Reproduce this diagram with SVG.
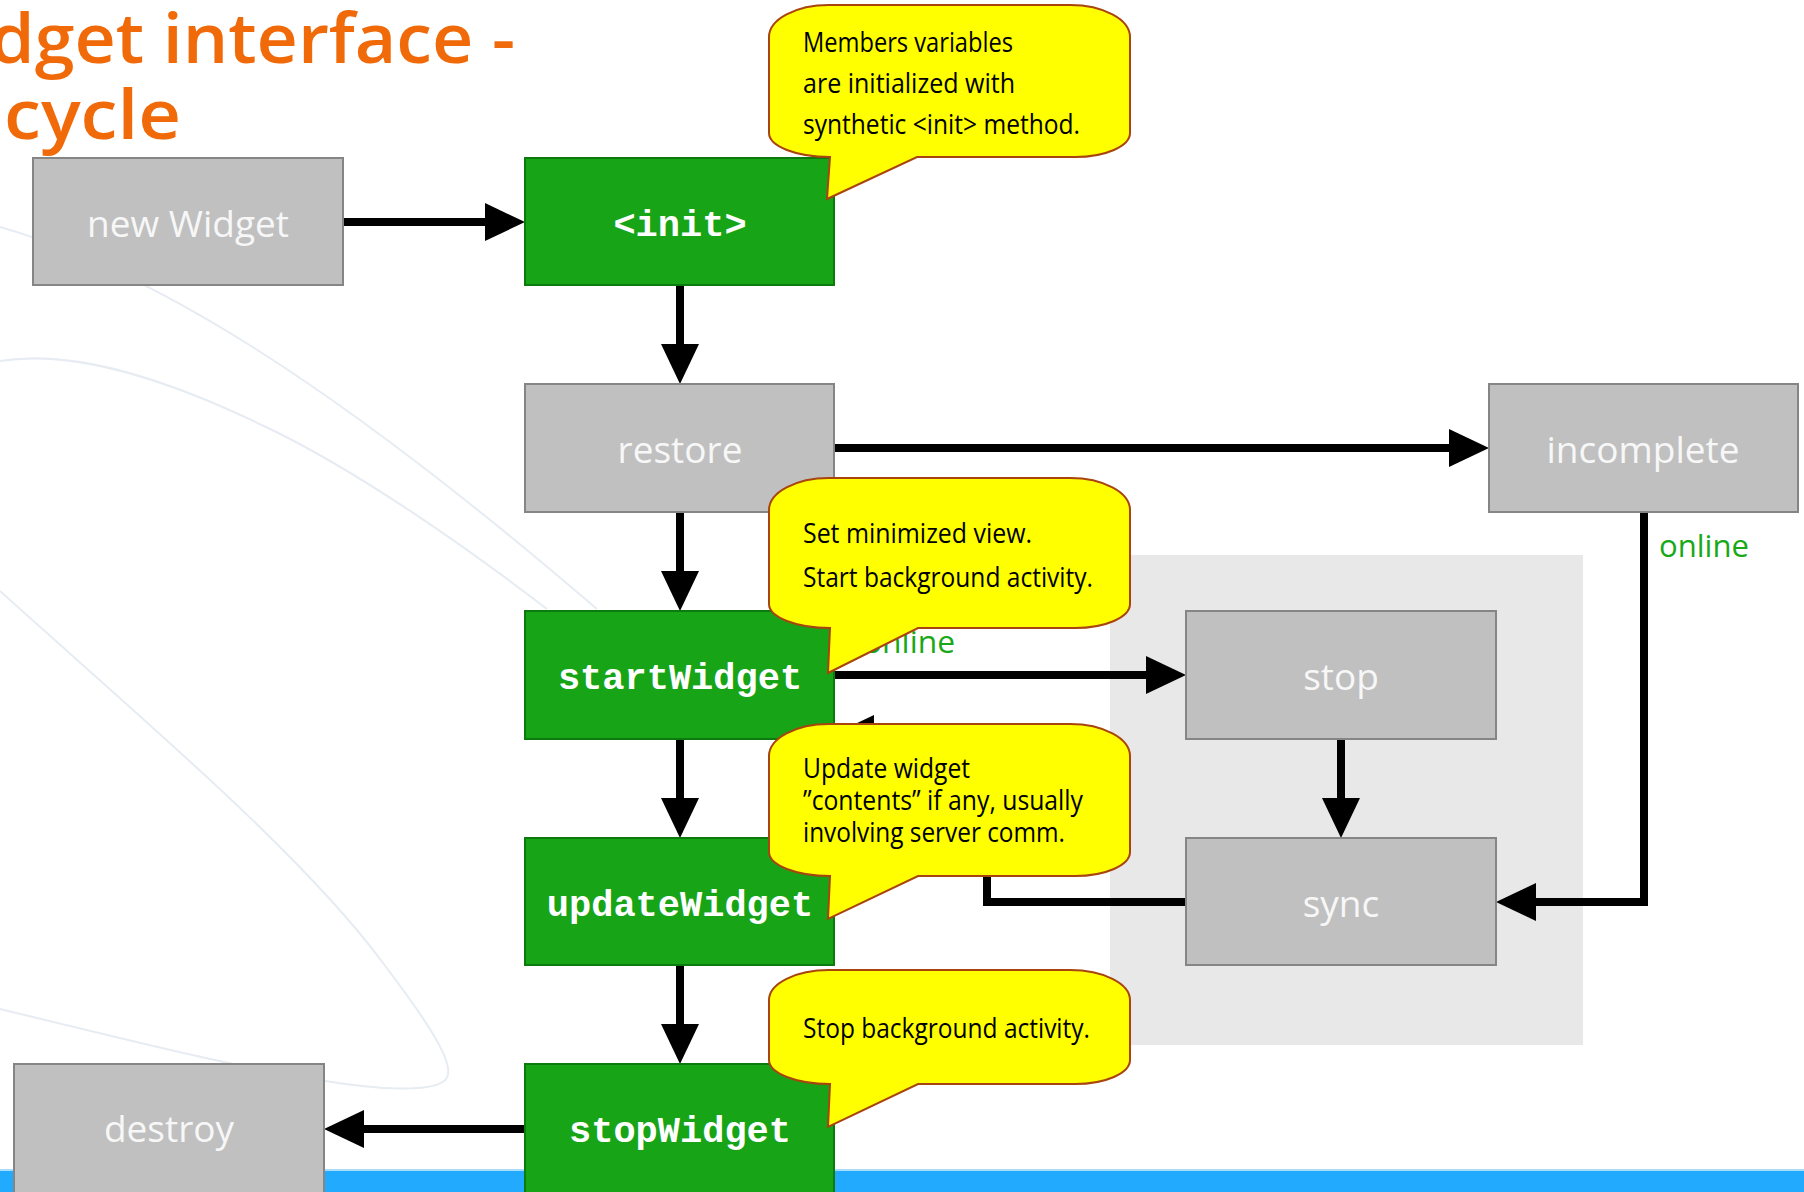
<svg xmlns="http://www.w3.org/2000/svg" width="1804" height="1192" viewBox="0 0 1804 1192">
<defs>
<style>
.gray{fill:#C0C0C0;stroke:#858585;stroke-width:2}
.green{fill:#17A517;stroke:#0C7A0C;stroke-width:2}
.glabel{font-family:"Open Sans","Noto Sans",sans-serif;font-size:37px;fill:#F7F7F7;text-anchor:middle}
.mlabel{font-family:"Liberation Mono","Courier New",monospace;font-weight:bold;font-size:37px;fill:#FFFFFF;text-anchor:middle}
.conn{fill:none;stroke:#000;stroke-width:8;stroke-linejoin:miter}
.callout{fill:#FFFF00;stroke:#A8440E;stroke-width:2}
.ctext{font-family:"Open Sans","Noto Sans",sans-serif;font-size:27px;fill:#000}
.online{font-family:"Open Sans","Noto Sans",sans-serif;font-size:31px;fill:#18A818}
.title{font-family:"Open Sans","Noto Sans",sans-serif;font-weight:600;font-size:68px;fill:#F06A0A}
.swoosh{fill:none;stroke:#E6ECF2;stroke-width:2}
</style>
<marker id="arrow" markerUnits="userSpaceOnUse" markerWidth="40" markerHeight="38" refX="20" refY="19" orient="auto">
<path d="M0,0 L40,19 L0,38 Z" fill="#000"/>
</marker>
</defs>
<rect x="0" y="0" width="1804" height="1192" fill="#FFFFFF"/>
<g id="background">
<path class="swoosh" d="M0,361 C80,348 180,385 268,428 C360,472 470,550 547,609"/>
<path class="swoosh" d="M0,227 C150,270 330,380 597,609"/>
<path class="swoosh" d="M0,591 C120,700 300,850 383,963 C430,1025 460,1070 444,1081 C430,1092 380,1090 325,1081 C250,1070 160,1048 0,1009"/>
<rect x="0" y="1170" width="1804" height="22" fill="#22AAFF"/>
<rect x="0" y="1169" width="1804" height="2" fill="#A8DCF8"/>
<rect x="1110" y="555" width="473" height="490" fill="#E8E8E8"/>
</g>
<g id="title">
<text class="title" x="-10" y="63" textLength="525" lengthAdjust="spacingAndGlyphs">dget interface -</text>
<text class="title" x="4" y="139" textLength="177" lengthAdjust="spacingAndGlyphs">cycle</text>
</g>
<g id="connectors">
<path class="conn" d="M343,222 L505,222" marker-end="url(#arrow)"/>
<path class="conn" d="M680,285 L680,364" marker-end="url(#arrow)"/>
<path class="conn" d="M834,448 L1469,448" marker-end="url(#arrow)"/>
<path class="conn" d="M680,512 L680,591" marker-end="url(#arrow)"/>
<path class="conn" d="M680,739 L680,818" marker-end="url(#arrow)"/>
<path class="conn" d="M680,965 L680,1044" marker-end="url(#arrow)"/>
<path class="conn" d="M525,1129 L344,1129" marker-end="url(#arrow)"/>
<path class="conn" d="M834,675 L1166,675" marker-end="url(#arrow)"/>
<path class="conn" d="M1341,739 L1341,818" marker-end="url(#arrow)"/>
<path class="conn" d="M1644,512 L1644,902 L1516,902" marker-end="url(#arrow)"/>
<path class="conn" d="M1186,902 L987,902 L987,734 L854,734" marker-end="url(#arrow)"/>
</g>
<g id="node-newWidget"><rect class="gray" x="33" y="158" width="310" height="127"/><text class="glabel" x="188" y="237">new Widget</text></g>
<g id="node-init"><rect class="green" x="525" y="158" width="309" height="127"/><text class="mlabel" x="680" y="236">&lt;init&gt;</text></g>
<g id="node-restore"><rect class="gray" x="525" y="384" width="309" height="128"/><text class="glabel" x="680" y="463">restore</text></g>
<g id="node-incomplete"><rect class="gray" x="1489" y="384" width="309" height="128"/><text class="glabel" x="1643" y="463">incomplete</text></g>
<g id="node-startWidget"><rect class="green" x="525" y="611" width="309" height="128"/><text class="mlabel" x="680" y="689">startWidget</text></g>
<g id="node-updateWidget"><rect class="green" x="525" y="838" width="309" height="127"/><text class="mlabel" x="680" y="916">updateWidget</text></g>
<g id="node-stopWidget"><rect class="green" x="525" y="1064" width="309" height="140"/><text class="mlabel" x="680" y="1142">stopWidget</text></g>
<g id="node-destroy"><rect class="gray" x="14" y="1064" width="310" height="140"/><text class="glabel" x="169" y="1142">destroy</text></g>
<g id="node-stop"><rect class="gray" x="1186" y="611" width="310" height="128"/><text class="glabel" x="1341" y="690">stop</text></g>
<g id="node-sync"><rect class="gray" x="1186" y="838" width="310" height="127"/><text class="glabel" x="1341" y="917">sync</text></g>
<g id="labels">
<text class="online" x="863" y="653" textLength="92" lengthAdjust="spacingAndGlyphs">online</text>
<text class="online" x="1659" y="557" textLength="90" lengthAdjust="spacingAndGlyphs">online</text>
</g>
<g id="callout-init">
<path class="callout" d="M769,37 A60,32 0 0 1 829,5 L1070,5 A60,32 0 0 1 1130,37 L1130,133 A55,24 0 0 1 1075,157 L917,157 L827,199 L830,157 A61,24 0 0 1 769,133 Z"/>
<text class="ctext" x="803" y="52" textLength="210" lengthAdjust="spacingAndGlyphs">Members variables</text>
<text class="ctext" x="803" y="93" textLength="212" lengthAdjust="spacingAndGlyphs">are initialized with</text>
<text class="ctext" x="803" y="134" textLength="277" lengthAdjust="spacingAndGlyphs">synthetic &lt;init&gt; method.</text>
</g>
<g id="callout-start">
<path class="callout" d="M769,510 A60,32 0 0 1 829,478 L1070,478 A60,32 0 0 1 1130,510 L1130,604 A55,24 0 0 1 1075,628 L918,628 L828,673 L830,628 A61,24 0 0 1 769,604 Z"/>
<text class="ctext" x="803" y="543" textLength="229" lengthAdjust="spacingAndGlyphs">Set minimized view.</text>
<text class="ctext" x="803" y="587" textLength="290" lengthAdjust="spacingAndGlyphs">Start background activity.</text>
</g>
<g id="callout-update">
<path class="callout" d="M769,756 A60,32 0 0 1 829,724 L1070,724 A60,32 0 0 1 1130,756 L1130,852 A55,24 0 0 1 1075,876 L918,876 L828,919 L830,876 A61,24 0 0 1 769,852 Z"/>
<text class="ctext" x="803" y="778" font-size="23" textLength="167" lengthAdjust="spacingAndGlyphs">Update widget</text>
<text class="ctext" x="803" y="810" font-size="23" textLength="280" lengthAdjust="spacingAndGlyphs">”contents” if any, usually</text>
<text class="ctext" x="803" y="842" font-size="23" textLength="262" lengthAdjust="spacingAndGlyphs">involving server comm.</text>
</g>
<g id="callout-stop">
<path class="callout" d="M769,1000 A60,30 0 0 1 829,970 L1070,970 A60,30 0 0 1 1130,1000 L1130,1060 A55,24 0 0 1 1075,1084 L918,1084 L828,1127 L830,1084 A61,24 0 0 1 769,1060 Z"/>
<text class="ctext" x="803" y="1038" textLength="287" lengthAdjust="spacingAndGlyphs">Stop background activity.</text>
</g>
</svg>
